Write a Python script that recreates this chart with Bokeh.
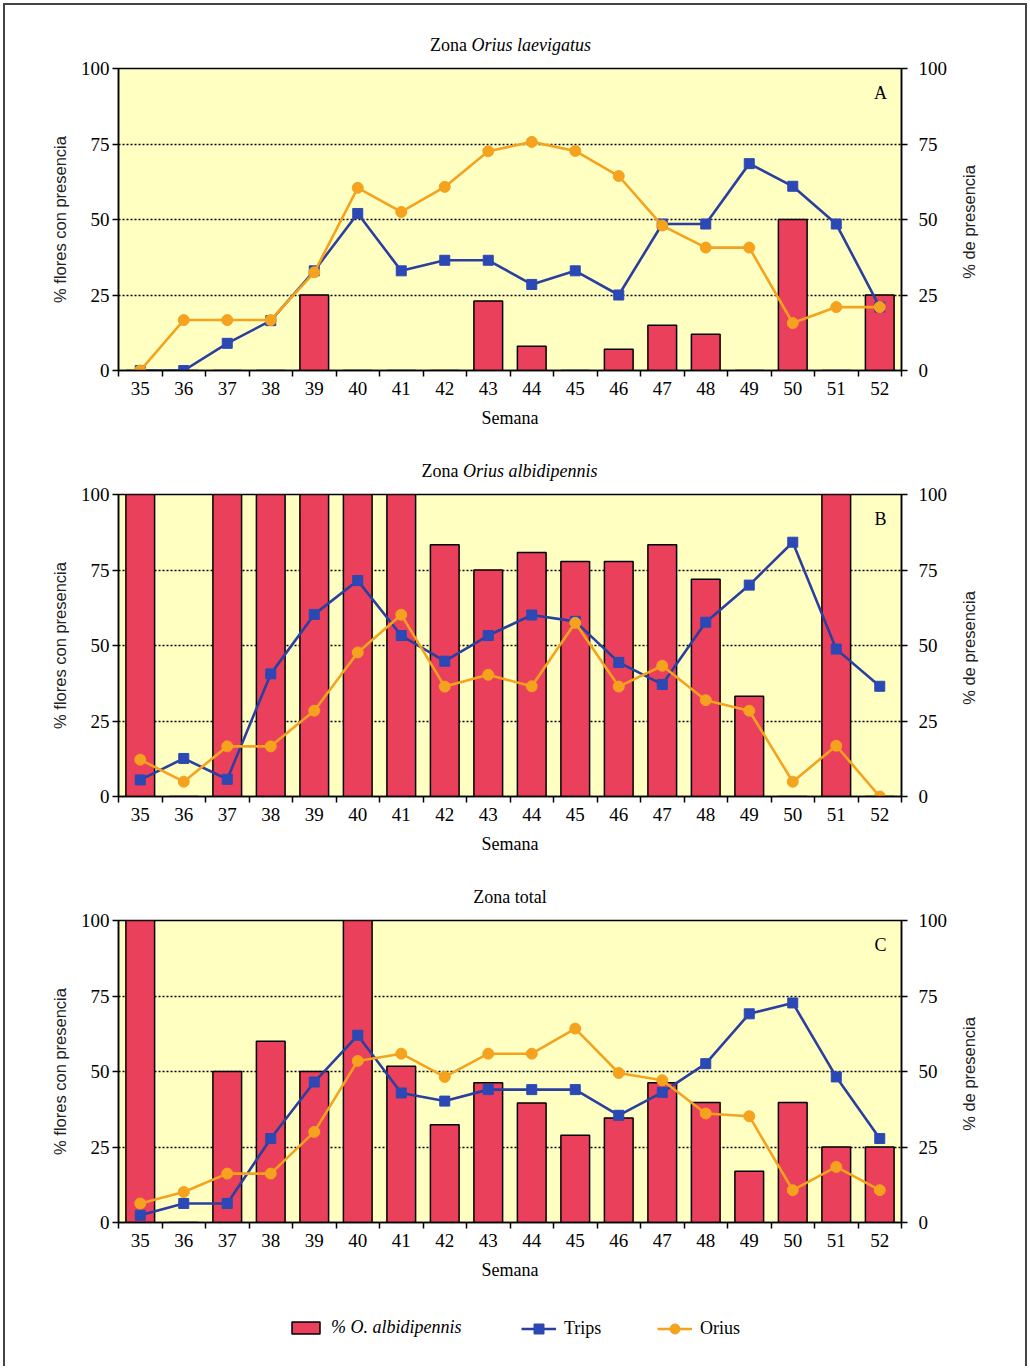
import math
from bokeh.plotting import figure
from bokeh.models import Range1d, LinearAxis, FixedTicker, Label, Legend, LegendItem
from bokeh.core.properties import value
from bokeh.layouts import column
from bokeh.embed import file_html
from bokeh.resources import INLINE

# ---------------- data ----------------
weeks = list(range(35, 53))

a_albidipennis = [0, 0, 0, 0, 25, 0, 0, 0, 23, 8, 0, 7, 15, 12, 0, 50, 0, 25]
a_trips = [0, 0, 9, 16.5, 33, 52, 33, 36.5, 36.5, 28.5, 33, 25, 48.5, 48.5, 68.5, 61, 48.5, 21]
a_orius = [0, 16.7, 16.7, 16.7, 32.5, 60.5, 52.5, 60.8, 72.6, 75.7, 72.7, 64.4, 48, 40.7, 40.7, 15.7, 21, 21]

b_albidipennis = [100, 0, 100, 100, 100, 100, 100, 83.4, 75, 80.8, 77.8, 77.8, 83.4, 71.9, 33.2, 0, 100, 0]
b_trips = [5.5, 12.6, 5.7, 40.6, 60.3, 71.5, 53.3, 44.8, 53.3, 60.1, 58, 44.4, 37.1, 57.7, 70, 84.2, 48.8, 36.5]
b_orius = [12.2, 4.9, 16.6, 16.6, 28.4, 47.7, 60.2, 36.4, 40.3, 36.5, 57.5, 36.4, 43.3, 31.9, 28.4, 4.9, 16.8, 0]

c_albidipennis = [100, 0, 50, 60, 50, 100, 51.7, 32.4, 46.3, 39.6, 28.9, 34.6, 46.3, 39.7, 17, 39.7, 25, 25]
c_trips = [2.4, 6.3, 6.3, 27.8, 46.5, 62, 42.9, 40.2, 44, 44, 44, 35.5, 43.1, 52.6, 69.1, 72.7, 48.2, 27.8]
c_orius = [6.3, 10.1, 16.2, 16.2, 30, 53.5, 55.9, 48.2, 55.9, 55.9, 64.2, 49.5, 47.1, 36.1, 35.2, 10.7, 18.4, 10.7]

y_ticks = [0, 25, 50, 75, 100]
grid_ticks = [25, 50, 75]

# ---------------- style ----------------
YELLOW = "#FFFFC2"
RED = "#EA405B"
BLUE = "#2A3F9E"
BLUE_M = "#2B48B4"
ORANGE = "#F5A21E"
SERIF = "Liberation Serif"
SANS = "Liberation Sans"
BL, BR = 113, 124  # borders left / right -> frame from x=118 to 901
XR = (34.5, 52.5)
NBSP = "\u00a0"


def blank(h):
    f = figure(frame_width=783, frame_height=h, x_range=Range1d(*XR), y_range=Range1d(0, h),
               output_backend="svg", toolbar_location=None,
               min_border_left=BL, min_border_right=BR, min_border_top=0, min_border_bottom=0,
               outline_line_color=None, x_axis_location=None, y_axis_location=None)
    f.grid.visible = False
    return f


def title_fig(h, plain, italic, offs):
    f = blank(h)
    common = dict(y=[12], text_baseline="middle", text_font=value(SERIF),
                  text_font_size="18px", text_color="black")
    if italic:
        f.text(x=[43.5], text=[plain], x_offset=offs[0], text_align="right", **common)
        f.text(x=[43.5], text=[italic], x_offset=offs[1], text_align="left",
               text_font_style="italic", **common)
    else:
        f.text(x=[43.5], text=[plain], text_align="center", **common)
    return f


def panel(letter, bars, trips, orius):
    p = figure(frame_width=783, frame_height=302,
               x_range=Range1d(*XR), y_range=Range1d(0, 100),
               output_backend="svg", toolbar_location=None,
               min_border_left=BL, min_border_right=BR,
               min_border_top=12, min_border_bottom=64,
               background_fill_color=YELLOW, border_fill_color="white",
               outline_line_color="black", outline_line_width=1.5)
    p.xgrid.visible = False
    p.ygrid.ticker = FixedTicker(ticks=grid_ticks)
    p.ygrid.grid_line_color = "black"
    p.ygrid.grid_line_dash = "2 2"
    p.ygrid.grid_line_width = 1.7

    p.vbar(x=weeks, top=bars, bottom=0, width=0.66, fill_color=RED,
           line_color="black", line_width=1.5)
    p.line(weeks, trips, line_color=BLUE, line_width=2.6)
    p.scatter(weeks, trips, marker="square", size=10, fill_color=BLUE_M,
              line_color=BLUE_M)
    p.line(weeks, orius, line_color=ORANGE, line_width=2.6)
    p.scatter(weeks, orius, marker="circle", size=11, fill_color=ORANGE,
              line_color=ORANGE)

    xa = p.xaxis[0]
    xa.ticker = FixedTicker(ticks=weeks, minor_ticks=[w - 0.5 for w in weeks] + [52.5])
    xa.major_tick_out = 0
    xa.major_tick_in = 0
    xa.minor_tick_out = 6
    xa.minor_tick_in = 0
    xa.minor_tick_line_color = "black"
    xa.minor_tick_line_width = 1.5
    xa.axis_line_width = 1.5
    xa.major_label_standoff = 5
    xa.major_label_text_font = SERIF
    xa.major_label_text_font_size = "19px"
    xa.major_label_text_color = "black"
    xa.axis_label = "Semana"
    xa.axis_label_text_font = SERIF
    xa.axis_label_text_font_size = "18px"
    xa.axis_label_text_font_style = "normal"
    xa.axis_label_text_color = "black"
    xa.axis_label_standoff = 10

    ya = p.yaxis[0]
    ya.ticker = FixedTicker(ticks=y_ticks)
    ya.major_tick_out = 6
    ya.major_tick_in = 0
    ya.major_tick_line_width = 1.5
    ya.minor_tick_line_color = None
    ya.axis_line_width = 1.5
    ya.major_label_standoff = 3
    ya.major_label_text_font = SERIF
    ya.major_label_text_font_size = "19px"
    ya.major_label_text_color = "black"
    ya.axis_label = "% flores con presencia"
    ya.axis_label_text_font = SANS
    ya.axis_label_text_font_size = "16.5px"
    ya.axis_label_text_font_style = "normal"
    ya.axis_label_text_color = "#222222"
    ya.axis_label_standoff = 9

    ra = LinearAxis(ticker=FixedTicker(ticks=y_ticks))
    ra.major_tick_out = 6
    ra.major_tick_in = 0
    ra.major_tick_line_width = 1.5
    ra.minor_tick_line_color = None
    ra.axis_line_width = 1.5
    ra.major_label_standoff = 11
    ra.major_label_text_font = SERIF
    ra.major_label_text_font_size = "19px"
    ra.major_label_text_color = "black"
    # reads bottom-to-top like the reference; anchored at the axis start and
    # pushed up with non-breaking spaces so the visible words sit centred
    ra.axis_label = NBSP * 20 + "% de presencia"
    ra.axis_label_orientation = math.pi / 2
    ra.axis_label_align = "start"
    ra.axis_label_text_font = SANS
    ra.axis_label_text_font_size = "16.5px"
    ra.axis_label_text_font_style = "normal"
    ra.axis_label_text_color = "#222222"
    ra.axis_label_standoff = 19
    p.add_layout(ra, "right")

    p.add_layout(Label(x=52.5, y=100, x_offset=-21, y_offset=-24, text=letter,
                       text_align="center", text_baseline="middle",
                       text_font=SERIF, text_font_size="18px", text_color="black"))
    return p


ta = title_fig(51, "Zona", "Orius laevigatus", (-43, -38.5))
pa = panel("A", a_albidipennis, a_trips, a_orius)
tb = title_fig(48, "Zona", "Orius albidipennis", (-51.5, -47))
pb = panel("B", b_albidipennis, b_trips, b_orius)
tc = title_fig(48, "Zona total", None, (0, 0))
pc = panel("C", c_albidipennis, c_trips, c_orius)

# ---------------- legend ----------------
lf = blank(80)
nan = float("nan")
r_bar = lf.vbar(x=[nan], top=[nan], width=0.5, fill_color=RED, line_color="black", line_width=1.5)
r_tl = lf.line(x=[nan], y=[nan], line_color=BLUE, line_width=2.5)
r_ts = lf.scatter(x=[nan], y=[nan], marker="square", fill_color=BLUE_M, line_color=BLUE_M)
r_ol = lf.line(x=[nan], y=[nan], line_color=ORANGE, line_width=2.5)
r_os = lf.scatter(x=[nan], y=[nan], marker="circle", fill_color=ORANGE, line_color=ORANGE)


def mk_legend(label, rends, loc, gh, style):
    return Legend(items=[LegendItem(label=label, renderers=rends)], location=loc,
                  glyph_width=35, glyph_height=gh, label_standoff=8,
                  label_text_font=SERIF, label_text_font_size="18px",
                  label_text_font_style=style, label_text_color="black",
                  padding=0, margin=0, border_line_color=None,
                  background_fill_alpha=0)


lf.add_layout(mk_legend("% O. albidipennis", [r_bar], (170, 28), 15, "italic"))
lf.add_layout(mk_legend("Trips", [r_tl, r_ts], (403, 25), 25, "normal"))
lf.add_layout(mk_legend("Orius", [r_ol, r_os], (539, 25), 25, "normal"))

layout = column(ta, pa, tb, pb, tc, pc, lf, margin=(3, 0, 0, 3),
                styles={"border-left": "2px solid #444", "border-right": "2px solid #444",
                        "border-top": "2px solid #444"})

open("out.html", "w").write(file_html(layout, INLINE))
